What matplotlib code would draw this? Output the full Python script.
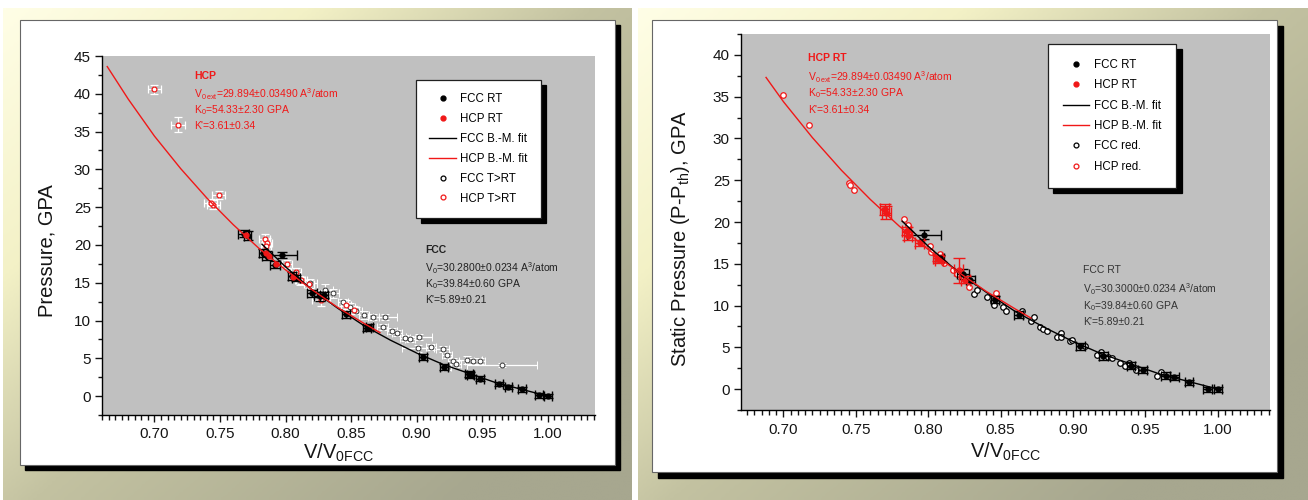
import numpy as np
import matplotlib
matplotlib.use('Agg')
import matplotlib.pyplot as plt
from matplotlib.colors import LinearSegmentedColormap
from matplotlib.lines import Line2D
from matplotlib.patches import Rectangle
from matplotlib.ticker import MultipleLocator, FormatStrFormatter

plt.rcParams['font.family'] = ['Liberation Sans', 'DejaVu Sans']
plt.rcParams['mathtext.fontset'] = 'custom'
plt.rcParams['mathtext.rm'] = 'Liberation Sans'
plt.rcParams['mathtext.it'] = 'Liberation Sans:italic'
plt.rcParams['mathtext.bf'] = 'Liberation Sans:bold'
plt.rcParams['mathtext.default'] = 'rm'

# ---------------- left panel data ----------------
L_fcc_rt_x = [0.768, 0.771, 0.783, 0.786, 0.797, 0.792, 0.805, 0.808, 0.820, 0.826, 0.829,
              0.846, 0.862, 0.864, 0.905, 0.921, 0.940, 0.941, 0.948, 0.963, 0.970, 0.980, 0.993, 1.000]
L_fcc_rt_y = [21.5, 21.2, 18.9, 18.6, 18.7, 17.4, 15.9, 15.6, 13.6, 13.2, 13.4,
              10.8, 9.0, 9.1, 5.2, 3.9, 2.9, 2.8, 2.3, 1.6, 1.2, 0.9, 0.1, 0.0]
L_fcc_rt_xe = [0.004, 0.003, 0.003, 0.004, 0.012, 0.004, 0.003, 0.003, 0.004, 0.004, 0.003,
               0.003, 0.003, 0.003, 0.003, 0.003, 0.003, 0.003, 0.003, 0.003, 0.003, 0.003, 0.003, 0.003]
L_fcc_rt_ye = [0.5, 0.6, 0.5, 0.6, 0.4, 0.5, 0.5, 0.4, 0.5, 0.6, 0.4,
               0.4, 0.4, 0.4, 0.4, 0.4, 0.4, 0.4, 0.3, 0.3, 0.3, 0.3, 0.3, 0.3]

L_hcp_rt_x = [0.770, 0.785, 0.787, 0.793, 0.806]
L_hcp_rt_y = [21.3, 18.9, 18.5, 17.5, 15.7]

L_hcp_hot_x = [0.700, 0.718, 0.749, 0.745, 0.743, 0.784, 0.786, 0.785, 0.801, 0.808,
               0.812, 0.818, 0.827, 0.846, 0.852]
L_hcp_hot_y = [40.6, 35.9, 26.6, 25.3, 25.6, 20.8, 20.3, 19.9, 17.5, 16.4,
               15.3, 14.8, 12.7, 12.1, 11.4]
L_hcp_hot_xe = [0.005, 0.005, 0.005, 0.005, 0.005, 0.004, 0.004, 0.004, 0.004, 0.004,
                0.004, 0.004, 0.007, 0.004, 0.004]
L_hcp_hot_ye = [0.6, 1.0, 0.5, 0.6, 0.5, 0.6, 0.6, 0.6, 0.5, 0.5,
                0.5, 0.5, 0.8, 0.6, 0.5]

L_fcc_hot_x = [0.811, 0.819, 0.830, 0.836, 0.844, 0.849, 0.854, 0.860, 0.867, 0.876,
               0.874, 0.881, 0.885, 0.891, 0.895, 0.902, 0.901, 0.911, 0.920, 0.923,
               0.928, 0.938, 0.943, 0.948, 0.965, 0.923, 0.930]
L_fcc_hot_y = [15.3, 14.9, 14.0, 13.6, 12.4, 11.8, 11.3, 10.7, 10.5, 10.5,
               9.2, 8.6, 8.3, 7.7, 7.5, 7.8, 6.3, 6.5, 6.2, 5.4,
               4.7, 4.8, 4.7, 4.6, 4.1, 3.8, 4.3]
L_fcc_hot_xe = [0.004, 0.005, 0.006, 0.005, 0.004, 0.004, 0.004, 0.004, 0.004, 0.009,
                0.004, 0.004, 0.004, 0.004, 0.004, 0.010, 0.012, 0.004, 0.005, 0.004,
                0.004, 0.012, 0.006, 0.004, 0.027, 0.003, 0.004]
L_fcc_hot_ye = [0.6, 0.6, 0.8, 0.6, 0.5, 0.5, 0.5, 0.5, 0.4, 0.4,
                0.4, 0.4, 0.4, 0.4, 0.4, 0.4, 0.4, 0.4, 0.4, 0.4,
                0.4, 0.5, 0.4, 0.4, 0.3, 0.4, 0.4]

L_fcc_fit_x = [0.782, 0.80, 0.82, 0.84, 0.86, 0.88, 0.90, 0.92, 0.94, 0.96, 0.98, 1.00]
L_fcc_fit_y = [20.1, 17.1, 14.1, 11.6, 9.3, 7.4, 5.7, 4.2, 3.0, 1.8, 0.9, 0.0]
L_hcp_fit_x = [0.664, 0.68, 0.70, 0.72, 0.74, 0.76, 0.78, 0.80, 0.82, 0.84, 0.86, 0.872]
L_hcp_fit_y = [43.6, 39.3, 34.4, 30.1, 26.2, 22.7, 19.5, 16.7, 14.1, 11.7, 9.6, 8.4]

# ---------------- right panel data ----------------
R_fcc_rt_x = [0.797, 0.808, 0.824, 0.829, 0.846, 0.8625, 0.905, 0.921, 0.940, 0.948,
              0.964, 0.970, 0.980, 0.993, 1.000]
R_fcc_rt_y = [18.5, 15.7, 13.8, 13.1, 10.7, 8.9, 5.1, 4.0, 2.8, 2.3,
              1.6, 1.4, 0.8, 0.0, 0.0]
R_fcc_rt_xe = [0.012, 0.003, 0.004, 0.003, 0.003, 0.003, 0.003, 0.003, 0.003, 0.003,
               0.003, 0.003, 0.003, 0.003, 0.003]
R_fcc_rt_ye = [0.5, 0.4, 0.6, 0.4, 0.4, 0.4, 0.4, 0.5, 0.4, 0.4,
               0.4, 0.3, 0.3, 0.3, 0.3]

R_hcp_rt_x = [0.770, 0.771, 0.785, 0.786, 0.794, 0.8065, 0.8075, 0.821, 0.8255]
R_hcp_rt_y = [21.5, 21.1, 18.9, 18.3, 17.5, 15.7, 15.5, 14.2, 13.1]
R_hcp_rt_xe = [0.003, 0.003, 0.003, 0.003, 0.003, 0.003, 0.003, 0.003, 0.003]
R_hcp_rt_ye = [0.7, 0.8, 0.5, 0.5, 0.4, 0.4, 0.4, 1.5, 0.4]

R_hcp_red_x = [0.700, 0.7175, 0.745, 0.746, 0.749, 0.783, 0.786, 0.785, 0.801, 0.802,
               0.808, 0.811, 0.817, 0.820, 0.824, 0.828, 0.847]
R_hcp_red_y = [35.2, 31.6, 24.7, 24.4, 23.8, 20.3, 19.7, 18.9, 17.1, 16.4,
               16.2, 15.1, 14.2, 13.8, 13.3, 12.2, 11.5]

R_fcc_red_x = [0.8315, 0.8334, 0.8403, 0.8448, 0.8453, 0.8517, 0.854, 0.8644, 0.8713, 0.8729,
               0.877, 0.8793, 0.8817, 0.8886, 0.892, 0.892, 0.8978, 0.8996, 0.9081, 0.9162,
               0.9192, 0.9242, 0.927, 0.9323, 0.9357, 0.9387, 0.9438, 0.9606, 0.9583]
R_fcc_red_y = [11.4, 11.9, 11.0, 10.5, 10.1, 9.8, 9.3, 9.4, 8.1, 8.6,
               7.4, 7.2, 6.9, 6.2, 6.75, 6.2, 5.7, 5.9, 5.1, 4.1,
               4.5, 3.8, 3.7, 3.1, 2.8, 3.1, 2.3, 2.0, 1.6]

R_fcc_fit_x = [0.782, 0.80, 0.82, 0.84, 0.86, 0.88, 0.90, 0.92, 0.94, 0.96, 0.98, 1.00]
R_fcc_fit_y = [20.1, 17.1, 14.1, 11.6, 9.3, 7.4, 5.7, 4.2, 3.0, 1.8, 0.9, 0.0]
R_hcp_fit_x = [0.688, 0.70, 0.72, 0.74, 0.76, 0.78, 0.80, 0.82, 0.84, 0.86, 0.871]
R_hcp_fit_y = [37.3, 34.4, 30.1, 26.2, 22.7, 19.5, 16.7, 14.1, 11.7, 9.6, 8.5]

hcp_text = ['HCP', 'V$_{0\\,ext}$=29.894±0.03490 A$^{3}$/atom', 'K$_0$=54.33±2.30 GPA', "K'=3.61±0.34"]
fcc_text_l = ['FCC', 'V$_0$=30.2800±0.0234 A$^{3}$/atom', 'K$_0$=39.84±0.60 GPA', "K'=5.89±0.21"]
fcc_text_r = ['FCC RT', 'V$_0$=30.3000±0.0234 A$^{3}$/atom', 'K$_0$=39.84±0.60 GPA', "K'=5.89±0.21"]

W, H = 1308, 500
RED = '#f01818'
GRAY = '#c0c0c0'


def px_rect(x0, y0, x1, y1):
    return [x0 / W, 1 - y1 / H, (x1 - x0) / W, (y1 - y0) / H]


fig = plt.figure(figsize=(W / 100, H / 100), dpi=100, facecolor='white')

# background gradient + white slides with black shadow
bg = fig.add_axes([0, 0, 1, 1])
cmap = LinearSegmentedColormap.from_list('bg', [(0, '#fffee6'), (0.3, '#f3f1c6'),
                                                (0.58, '#c3c2a1'), (1, '#a7a78f')])
gx, gy = np.meshgrid(np.linspace(0, 1, 300), np.linspace(0, 1, 120))
grad = np.clip(0.62 * gx + 0.55 * gy, 0, 1)
for x0, x1 in [(3, 632), (638, 1308)]:
    bg.imshow(grad, cmap=cmap, vmin=0, vmax=1, extent=(x0, x1, 500, 8),
              aspect='auto', interpolation='bilinear', zorder=0)
for (x0, y0, x1, y1, off) in [(20, 20, 615, 465, 5), (652, 20, 1277, 472, 6)]:
    bg.add_patch(Rectangle((x0 + off, y0 + off), x1 - x0, y1 - y0, color='black', zorder=1))
    bg.add_patch(Rectangle((x0, y0), x1 - x0, y1 - y0, facecolor='white',
                           edgecolor='#666666', lw=0.8, zorder=2))
bg.set_xlim(0, W)
bg.set_ylim(H, 0)
bg.axis('off')


def style_axes(ax, xlim, ylim):
    ax.set_facecolor(GRAY)
    ax.set_xlim(*xlim)
    ax.set_ylim(*ylim)
    for s in ['top', 'right']:
        ax.spines[s].set_visible(False)
    for s in ['left', 'bottom']:
        ax.spines[s].set_linewidth(1.0)
    ax.xaxis.set_major_locator(MultipleLocator(0.05))
    ax.xaxis.set_minor_locator(MultipleLocator(0.005))
    ax.yaxis.set_major_locator(MultipleLocator(5))
    ax.yaxis.set_minor_locator(MultipleLocator(2.5))
    ax.xaxis.set_major_formatter(FormatStrFormatter('%.2f'))
    ax.yaxis.set_major_formatter(FormatStrFormatter('%d'))
    ax.tick_params(which='both', direction='out', width=1.0, labelsize=11, colors='#151515')
    ax.tick_params(axis='x', which='major', length=5, pad=4)
    ax.tick_params(axis='x', which='minor', length=3.5)
    ax.tick_params(axis='y', which='major', length=5, pad=3)
    ax.tick_params(axis='y', which='minor', length=3)


def make_legend(ax, labels, anchor, spacing, bpad):
    handles = [Line2D([], [], ls='none', marker='o', ms=3.5, color='black'),
               Line2D([], [], ls='none', marker='o', ms=3.5, color=RED),
               Line2D([], [], color='black', lw=1),
               Line2D([], [], color=RED, lw=1),
               Line2D([], [], ls='none', marker='o', ms=3.5, mfc='white', mec='black', mew=0.9),
               Line2D([], [], ls='none', marker='o', ms=3.5, mfc='white', mec=RED, mew=0.9)]
    leg = ax.legend(handles, labels, loc='upper left', bbox_to_anchor=anchor,
                    borderaxespad=0, fontsize=8.3, labelspacing=spacing, handlelength=2.3,
                    handletextpad=0.4, borderpad=bpad, fancybox=False, framealpha=1,
                    edgecolor='#202020', numpoints=1,
                    shadow={'color': 'black', 'alpha': 1, 'ox': 3.8, 'oy': -3.8})
    leg.get_frame().set_linewidth(0.9)
    leg.set_zorder(10)


def annotate(ax, x, ys, lines, color, bold):
    for i, (yy, s) in enumerate(zip(ys, lines)):
        ax.text(x, yy, s, color=color, fontsize=7.5, ha='left', va='center',
                fontweight='bold' if (i == 0 and bold) else 'normal')


# ---------------- left panel ----------------
ax1 = fig.add_axes(px_rect(102, 56, 595, 415))
style_axes(ax1, (0.66, 1.036), (-2.5, 45))

ax1.errorbar(L_fcc_hot_x, L_fcc_hot_y, xerr=L_fcc_hot_xe, yerr=L_fcc_hot_ye, fmt='o', ms=3.5,
             mfc='white', mec='#333333', mew=0.7, ecolor='white', elinewidth=0.9,
             capsize=3, capthick=0.9, zorder=2)
ax1.errorbar(L_hcp_hot_x, L_hcp_hot_y, xerr=L_hcp_hot_xe, yerr=L_hcp_hot_ye, fmt='o', ms=3.5,
             mfc='white', mec=RED, mew=0.9, ecolor='white', elinewidth=0.9,
             capsize=3, capthick=0.9, zorder=2)
ax1.errorbar(L_fcc_rt_x, L_fcc_rt_y, xerr=L_fcc_rt_xe, yerr=L_fcc_rt_ye, fmt='o', ms=3.5,
             color='black', ecolor='black', elinewidth=1, capsize=3.5, capthick=1, zorder=3)
ax1.plot(L_hcp_rt_x, L_hcp_rt_y, 'o', ms=3.5, color=RED, zorder=4)
ax1.plot(L_fcc_fit_x, L_fcc_fit_y, color='black', lw=1, zorder=5)
ax1.plot(L_hcp_fit_x, L_hcp_fit_y, color=RED, lw=1, zorder=5)

annotate(ax1, 0.730, [42.35, 40.0, 37.9, 35.7], hcp_text, RED, True)
annotate(ax1, 0.9065, [19.3, 16.9, 14.8, 12.7], fcc_text_l, '#222222', True)

ax1.set_ylabel('Pressure, GPA', fontsize=14.5, color='#151515')
ax1.yaxis.set_label_coords(-0.093, 0.457)
ax1.set_xlabel('V/V$_{0FCC}$', fontsize=14.5, color='#151515')
ax1.xaxis.set_label_coords(0.48, -0.075)
make_legend(ax1, ['FCC RT', 'HCP RT', 'FCC B.-M. fit', 'HCP B.-M. fit', 'FCC T>RT', 'HCP T>RT'],
            (0.637, 0.933), 0.68, 1.15)

# ---------------- right panel ----------------
ax2 = fig.add_axes(px_rect(741, 34, 1270, 410))
style_axes(ax2, (0.6707, 1.036), (-2.5, 42.5))

ax2.plot(R_fcc_red_x, R_fcc_red_y, 'o', ms=4, mfc='white', mec='black', mew=0.9, zorder=2)
ax2.plot(R_hcp_red_x, R_hcp_red_y, 'o', ms=4, mfc='white', mec=RED, mew=0.9, zorder=2)
ax2.errorbar(R_fcc_rt_x, R_fcc_rt_y, xerr=R_fcc_rt_xe, yerr=R_fcc_rt_ye, fmt='o', ms=3.5,
             color='black', ecolor='black', elinewidth=1, capsize=3.5, capthick=1, zorder=3)
ax2.errorbar(R_hcp_rt_x, R_hcp_rt_y, xerr=R_hcp_rt_xe, yerr=R_hcp_rt_ye, fmt='o', ms=3.5,
             color=RED, ecolor=RED, elinewidth=1, capsize=4.5, capthick=1, zorder=3)
ax2.plot(R_fcc_fit_x, R_fcc_fit_y, color='black', lw=1, zorder=5)
ax2.plot(R_hcp_fit_x, R_hcp_fit_y, color=RED, lw=1, zorder=5)

annotate(ax2, 0.717, [39.6, 37.3, 35.4, 33.4], ['HCP RT'] + hcp_text[1:], RED, True)
annotate(ax2, 0.907, [14.2, 11.9, 9.95, 8.0], fcc_text_r, '#333333', False)

ax2.set_ylabel('Static Pressure (P-P$_{th}$), GPA', fontsize=14.5, color='#151515')
ax2.yaxis.set_label_coords(-0.0926, 0.455)
ax2.set_xlabel('V/V$_{0FCC}$', fontsize=14.5, color='#151515')
ax2.xaxis.set_label_coords(0.50, -0.082)
make_legend(ax2, ['FCC RT', 'HCP RT', 'FCC B.-M. fit', 'HCP B.-M. fit', 'FCC red.', 'HCP red.'],
            (0.580, 0.973), 0.72, 1.3)

fig.savefig('out.png', dpi=100)
